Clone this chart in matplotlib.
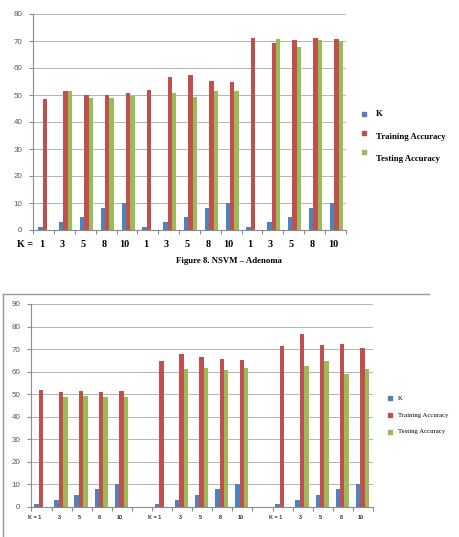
import matplotlib
matplotlib.use("Agg")
import matplotlib.pyplot as plt
import numpy as np
from matplotlib.patches import Rectangle
from matplotlib.lines import Line2D

# ---- data ----
k_labels = ["1", "3", "5", "8", "10"]

# Top chart (Figure 8. NSVM - Adenoma): 3 groups of 5 K values
top_k = [1, 3, 5, 8, 10, 1, 3, 5, 8, 10, 1, 3, 5, 8, 10]
top_train = [48.5, 51.5, 50.0, 50.0, 50.8,
             51.8, 56.5, 57.5, 55.2, 54.8,
             71.0, 69.3, 70.2, 71.1, 70.7]
top_test = [0, 51.5, 48.8, 49.0, 49.5,
            0, 50.8, 49.2, 51.5, 51.6,
            0, 70.6, 67.8, 70.2, 69.9]

# Bottom chart: 3 groups of 5 K values separated by blank categories
bot_k = [1, 3, 5, 8, 10, 1, 3, 5, 8, 10, 1, 3, 5, 8, 10]
bot_train = [51.8, 50.8, 51.3, 50.9, 51.3,
             64.9, 67.9, 66.4, 65.7, 65.2,
             71.3, 76.7, 71.8, 72.4, 70.6]
bot_test = [0, 48.8, 49.3, 48.8, 48.5,
            0, 61.0, 61.6, 60.6, 61.5,
            0, 62.5, 64.9, 59.1, 61.3]

series_names = ["K", "Training Accuracy", "Testing Accuracy"]
colors = ["#4F81BD", "#C0504D", "#9BBB59"]

W, H = 460, 537
fig = plt.figure(figsize=(W / 100, H / 100), dpi=100)

def fx(px):
    return px / W

def fy(py):
    return 1 - py / H

grid_c = "#B4B4B4"
axis_c = "#8C8C8C"
tick_c = "#595959"

def style_axes(ax, ymax, step):
    ax.set_ylim(0, ymax)
    ax.set_yticks(np.arange(0, ymax + 1, step))
    ax.yaxis.grid(True, color=grid_c, lw=0.7)
    ax.set_axisbelow(True)
    for s in ["top", "right"]:
        ax.spines[s].set_visible(False)
    ax.spines["left"].set_color(axis_c)
    ax.spines["bottom"].set_color(axis_c)
    ax.tick_params(axis="y", length=3, color=axis_c, labelcolor=tick_c,
                   labelsize=5.8, pad=5)
    for lab in ax.get_yticklabels():
        lab.set_family("Liberation Sans")

# ---------------- top chart ----------------
ax1 = fig.add_axes([fx(33.3), fy(230), fx(345.7) - fx(33.3), fy(14) - fy(230)])
n1 = len(top_k)
x1 = np.arange(n1)
bw = 0.21
sh = 0.05
ax1.bar(x1 - bw + sh, top_k, bw, color=colors[0], zorder=2)
ax1.bar(x1 + sh, top_train, bw, color=colors[1], zorder=2)
ax1.bar(x1 + bw + sh, top_test, bw, color=colors[2], zorder=2)
ax1.set_xlim(-0.5, n1 - 0.5)
style_axes(ax1, 80, 10)
ax1.set_xticks(np.arange(n1 + 1) - 0.5)
ax1.set_xticklabels([])
ax1.tick_params(axis="x", length=3, color=axis_c)
labels1 = k_labels * 3
for i, lab in enumerate(labels1):
    ax1.text(i - 0.12, -0.065, lab, transform=ax1.get_xaxis_transform(),
             ha="center", va="center", fontsize=7.3, fontweight="bold",
             family="Liberation Serif")
ax1.text(-0.5, -0.065, "K =", transform=ax1.get_xaxis_transform(),
         ha="right", va="center", fontsize=7.3, fontweight="bold",
         family="Liberation Serif")

# top legend
leg1 = [(114, 115, 114), (133, 137, 137), (152, 159, 159)]
for (my, _, ty), name, c in zip(leg1, series_names, colors):
    fig.patches.append(Rectangle((fx(362), fy(my + 2)), fx(4), fy(0) - fy(4),
                                 transform=fig.transFigure, color=c))
    fig.text(fx(376), fy(ty), name, ha="left", va="center", fontsize=6.3,
             fontweight="bold", family="Liberation Serif")

# caption
fig.text(fx(229), fy(261), "Figure 8. NSVM \u2013 Adenoma", ha="center",
         va="center", fontsize=6.3, fontweight="bold", family="Liberation Serif")

# frame around bottom chart
fig.add_artist(Line2D([fx(3), fx(429)], [fy(294), fy(294)],
                      transform=fig.transFigure, color="#9A9A9A", lw=1))
fig.add_artist(Line2D([fx(3), fx(3)], [fy(294), fy(540)],
                      transform=fig.transFigure, color="#9A9A9A", lw=1))

# ---------------- bottom chart ----------------
ax2 = fig.add_axes([fx(31.5), fy(506.7), fx(373) - fx(31.5), fy(304) - fy(506.7)])
pos2 = np.array(list(range(0, 5)) + list(range(6, 11)) + list(range(12, 17)))
bw2 = 0.22
sh2 = -0.03
ax2.bar(pos2 - bw2 + sh2, bot_k, bw2, color=colors[0], zorder=2)
ax2.bar(pos2 + sh2, bot_train, bw2, color=colors[1], zorder=2)
ax2.bar(pos2 + bw2 + sh2, bot_test, bw2, color=colors[2], zorder=2)
ax2.set_xlim(-0.5, 16.5)
style_axes(ax2, 90, 10)
ax2.set_xticks(np.arange(18) - 0.5)
ax2.set_xticklabels([])
ax2.tick_params(axis="x", length=3, color=axis_c)
labels2 = ["K = 1", "3", "5", "8", "10"] * 3
for p, lab in zip(pos2, labels2):
    ax2.text(p - (0.35 if lab.startswith("K") else 0.1), -0.055, lab,
             transform=ax2.get_xaxis_transform(), ha="center", va="center",
             fontsize=4.0, fontweight="bold", family="Liberation Sans",
             color="#333333")

# bottom legend
leg2 = [398, 415, 432]
for my, name, c in zip(leg2, series_names, colors):
    fig.patches.append(Rectangle((fx(388), fy(my + 2)), fx(4), fy(0) - fy(4),
                                 transform=fig.transFigure, color=c))
    fig.text(fx(398), fy(my), name, ha="left", va="center", fontsize=4.9,
             family="Liberation Serif")

fig.savefig("out.png", dpi=100)
